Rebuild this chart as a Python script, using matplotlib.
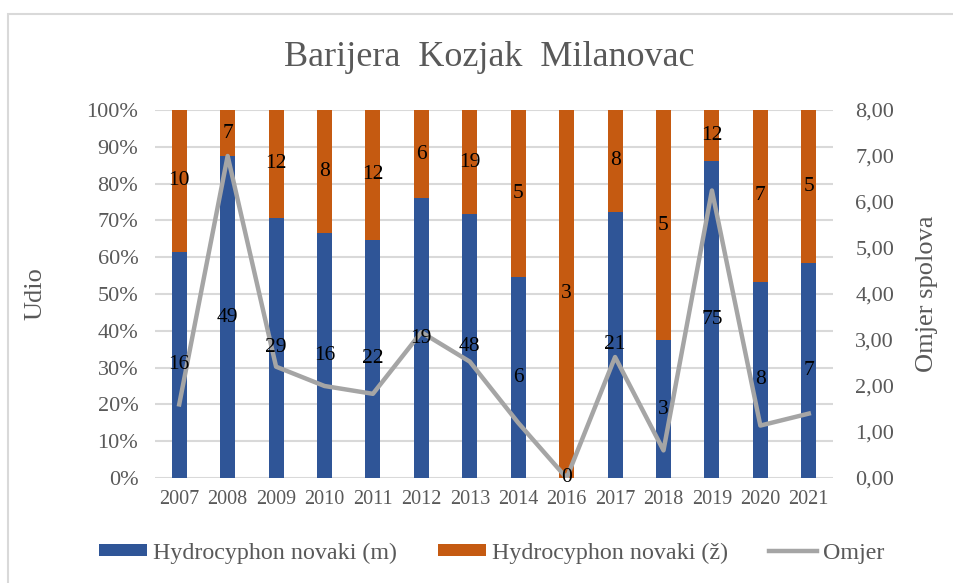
import matplotlib.pyplot as plt
import numpy as np
from matplotlib.patches import Rectangle
from matplotlib.ticker import FuncFormatter

plt.rcParams['font.family'] = ['Liberation Serif', 'DejaVu Serif']

# Podaci
godine = ['2007', '2008', '2009', '2010', '2011', '2012', '2013',
          '2014', '2016', '2017', '2018', '2019', '2020', '2021']
muzjaci = [16, 49, 29, 16, 22, 19, 48, 6, 0, 21, 3, 75, 8, 7]
zenke = [10, 7, 12, 8, 12, 6, 19, 5, 3, 8, 5, 12, 7, 5]
omjer = [1.60, 7.00, 2.42, 2.00, 1.83, 3.17, 2.53, 1.20, 0.00, 2.63, 0.60, 6.25, 1.14, 1.40]

plava = '#2F5597'
narancasta = '#C55A11'
siva = '#A5A5A5'
tekst = '#595959'

m = np.array(muzjaci, dtype=float)
z = np.array(zenke, dtype=float)
udio_m = m / (m + z)
udio_z = z / (m + z)
x = np.arange(len(godine))

fig = plt.figure(figsize=(9.54, 5.83), dpi=100)
ax = fig.add_axes([155/954, 1 - 478/583, (833 - 155)/954, (478 - 110)/583])

# Okvir grafa
fig.patches.append(Rectangle((8/954, -0.1), 1.2, 1.1 - 14/583,
                             transform=fig.transFigure, fill=False,
                             edgecolor='#D9D9D9', lw=1.5))

ax.bar(x, udio_m, width=0.31, color=plava, label='Hydrocyphon novaki (m)', zorder=2)
ax.bar(x, udio_z, width=0.31, bottom=udio_m, color=narancasta,
       label='Hydrocyphon novaki (ž)', zorder=2)

ax.set_ylim(0, 1)
ax.set_xlim(-0.5, len(x) - 0.5)
ax.set_yticks(np.arange(0, 1.01, 0.1))
ax.yaxis.set_major_formatter(FuncFormatter(lambda v, p: '{:.0f}%'.format(v * 100)))
ax.set_xticks(x)
ax.set_xticklabels(godine)
ax.grid(axis='y', color='#D9D9D9', lw=1.5, zorder=0)
ax.set_axisbelow(True)
for s in ax.spines.values():
    s.set_visible(False)
ax.tick_params(axis='both', length=0, colors=tekst)
ax.tick_params(axis='y', labelsize=16, pad=12)
ax.tick_params(axis='x', labelsize=14.5, pad=9)
ax.set_ylabel('Udio', fontsize=19, color=tekst, labelpad=29)

ax2 = ax.twinx()
ax2.plot(x, omjer, color=siva, lw=3.2, label='Omjer', zorder=4)
ax2.set_ylim(0, 8)
ax2.set_yticks(np.arange(0, 8.01, 1))
ax2.yaxis.set_major_formatter(FuncFormatter(lambda v, p: '{:.2f}'.format(v).replace('.', ',')))
for s in ax2.spines.values():
    s.set_visible(False)
ax2.tick_params(axis='y', length=0, colors=tekst, labelsize=16, pad=16)
ax2.set_ylabel('Omjer spolova', fontsize=19, color=tekst, labelpad=16)

# oznake vrijednosti iznad linije
for i in range(len(x)):
    ax2.text(x[i], udio_m[i] / 2, str(muzjaci[i]), ha='center', va='center',
             fontsize=15.5, color='black', zorder=6, transform=ax.transData)
    ax2.text(x[i], udio_m[i] + udio_z[i] / 2, str(zenke[i]), ha='center', va='center',
             fontsize=15.5, color='black', zorder=6, transform=ax.transData)

fig.text(489/954, 1 - 58/583, 'Barijera  Kozjak  Milanovac', ha='center', va='center',
         fontsize=26, color=tekst)

h1, l1 = ax.get_legend_handles_labels()
h2, l2 = ax2.get_legend_handles_labels()
fig.legend(h1 + h2, l1 + l2, loc='center', bbox_to_anchor=(492/954, 1 - 553/583),
           ncol=3, frameon=False, fontsize=17.3, labelcolor=tekst,
           handlelength=2, handleheight=0.45, columnspacing=1.7, handletextpad=0.25)

fig.savefig('out.png', dpi=100)
